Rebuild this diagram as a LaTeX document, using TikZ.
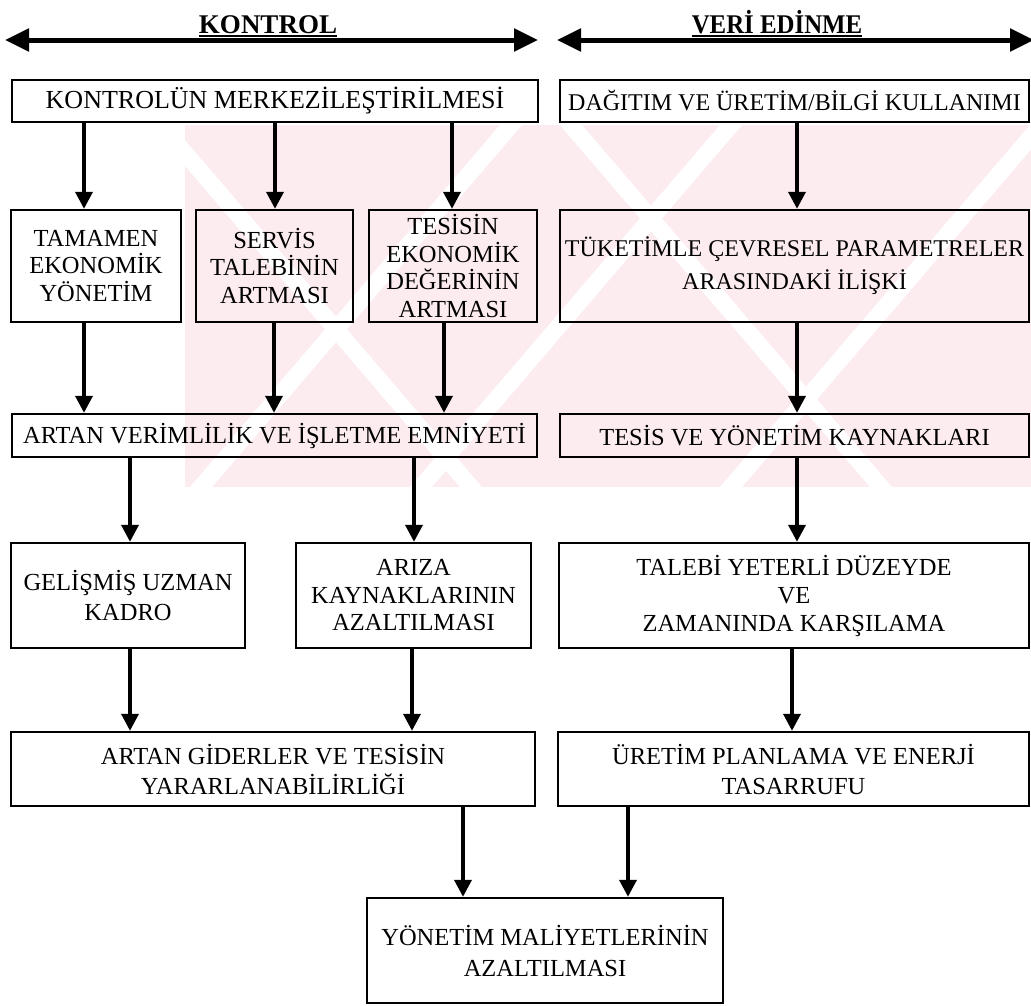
\documentclass[tikz,border=0pt]{standalone}
\usepackage{fontspec}
\setmainfont{Liberation Serif}
\usetikzlibrary{arrows.meta}

\definecolor{wmpink}{RGB}{253,236,239}

\begin{document}
\begin{tikzpicture}[x=1pt,y=-1pt,
  box/.style={draw, line width=2.4pt, inner sep=0pt, align=center,
    font=\fontsize{24.5}{27.5}\selectfont},
  flow/.style={line width=3.6pt, -{Triangle[length=17pt,width=17pt]}},
  span/.style={line width=5pt,
    {Triangle[length=24pt,width=22pt]}-{Triangle[length=24pt,width=22pt]}},
  title/.style={font=\bfseries\fontsize{27}{30}\selectfont, anchor=base, inner sep=0pt},
  uline/.style={line width=2pt},
  gap/.style={fill=white}
]
\useasboundingbox (0,0) rectangle (1031,1005);

% pale striped background mark
\begin{scope}
  \clip (185,125) rectangle (1031,487);
  \fill[wmpink] (185,125) rectangle (1031,487);
  \foreach \s in {190,410,720} {
    \fill[gap] (\s,487) -- ++(22,0) -- ++(310,-362) -- ++(-22,0) -- cycle;
  }
  \foreach \s in {150,560} {
    \fill[gap] (\s,125) -- ++(22,0) -- ++(310,362) -- ++(-22,0) -- cycle;
  }
\end{scope}

% section headings with their span arrows
\node[title] (ktitle) at (268,33) {KONTROL};
\node[title] (vtitle) at (777,33) {\scalebox{0.92}[1]{VERİ EDİNME}};
\draw[uline] ([yshift=-3pt]ktitle.base west) -- ([yshift=-3pt]ktitle.base east);
\draw[uline] ([yshift=-3pt]vtitle.base west) -- ([yshift=-3pt]vtitle.base east);
\coordinate (kl) at (5,40);
\coordinate (kr) at (538,40);
\coordinate (vl) at (557,40);
\coordinate (vr) at (1034,40);
\draw[span] (kl) -- (kr);
\draw[span] (vl) -- (vr);

% left column: control
\node[box, minimum width=526pt, minimum height=42pt, font=\fontsize{26}{29}\selectfont] (kmerk) at (275,101) {KONTROLÜN MERKEZİLEŞTİRİLMESİ};
\node[box, minimum width=170pt, minimum height=112pt] (tamamen) at (96,266) {TAMAMEN\\EKONOMİK\\YÖNETİM};
\node[box, minimum width=157pt, minimum height=112pt] (servis) at (274.5,266) {SERVİS\\TALEBİNİN\\ARTMASI};
\node[box, minimum width=168pt, minimum height=112pt] (tesisin) at (453,266) {TESİSİN\\EKONOMİK\\DEĞERİNİN\\ARTMASI};
\node[box, minimum width=525pt, minimum height=43pt] (artan) at (274.5,435.5) {ARTAN VERİMLİLİK VE İŞLETME EMNİYETİ};
\node[box, minimum width=234pt, minimum height=105pt, font=\fontsize{24.5}{30}\selectfont] (gelismis) at (128,595.5) {GELİŞMİŞ UZMAN\\KADRO};
\node[box, minimum width=235pt, minimum height=105pt] (ariza) at (413.5,595.5) {ARIZA\\KAYNAKLARININ\\AZALTILMASI};
\node[box, minimum width=524pt, minimum height=74pt, font=\fontsize{24.5}{30}\selectfont] (giderler) at (273,769) {ARTAN GİDERLER VE TESİSİN\\YARARLANABİLİRLİĞİ};

% right column: data acquisition
\node[box, minimum width=469pt, minimum height=42pt, font=\fontsize{24}{27}\selectfont] (dagitim) at (794.5,101) {DAĞITIM VE ÜRETİM/BİLGİ KULLANIMI};
\node[box, minimum width=469pt, minimum height=112pt, font=\fontsize{24}{33}\selectfont] (tuketim) at (794.5,266) {TÜKETİMLE ÇEVRESEL PARAMETRELER\\ARASINDAKİ İLİŞKİ};
\node[box, minimum width=469pt, minimum height=43pt] (tesis) at (794.5,435.5) {TESİS VE YÖNETİM KAYNAKLARI};
\node[box, minimum width=470pt, minimum height=105pt, font=\fontsize{24.5}{28}\selectfont] (talebi) at (794,595.5) {TALEBİ YETERLİ DÜZEYDE\\VE\\ZAMANINDA KARŞILAMA};
\node[box, minimum width=471pt, minimum height=74pt, font=\fontsize{24.5}{30}\selectfont] (uretim) at (793.5,769) {ÜRETİM PLANLAMA VE ENERJİ\\TASARRUFU};

% common outcome
\node[box, minimum width=356pt, minimum height=105pt, font=\fontsize{24.5}{31}\selectfont] (yonetim) at (545,950.5) {YÖNETİM MALİYETLERİNİN\\AZALTILMASI};

% arrow columns
\coordinate (a1) at (84,0);
\coordinate (a2) at (275,0);
\coordinate (a3) at (452,0);
\coordinate (b1) at (84,0);
\coordinate (b2) at (274,0);
\coordinate (b3) at (444,0);
\coordinate (c1) at (130,0);
\coordinate (c2) at (414,0);
\coordinate (d1) at (130,0);
\coordinate (d2) at (412,0);
\coordinate (r1) at (797,0);
\coordinate (r2) at (792,0);
\coordinate (e1) at (463,0);
\coordinate (e2) at (628,0);

\draw[flow] (kmerk.south -| a1) -- (tamamen.north -| a1);
\draw[flow] (kmerk.south -| a2) -- (servis.north -| a2);
\draw[flow] (kmerk.south -| a3) -- (tesisin.north -| a3);
\draw[flow] (tamamen.south -| b1) -- (artan.north -| b1);
\draw[flow] (servis.south -| b2) -- (artan.north -| b2);
\draw[flow] (tesisin.south -| b3) -- (artan.north -| b3);
\draw[flow] (artan.south -| c1) -- (gelismis.north -| c1);
\draw[flow] (artan.south -| c2) -- (ariza.north -| c2);
\draw[flow] (gelismis.south -| d1) -- (giderler.north -| d1);
\draw[flow] (ariza.south -| d2) -- (giderler.north -| d2);

\draw[flow] (dagitim.south -| r1) -- (tuketim.north -| r1);
\draw[flow] (tuketim.south -| r1) -- (tesis.north -| r1);
\draw[flow] (tesis.south -| r1) -- (talebi.north -| r1);
\draw[flow] (talebi.south -| r2) -- (uretim.north -| r2);

\draw[flow] (giderler.south -| e1) -- (yonetim.north -| e1);
\draw[flow] (uretim.south -| e2) -- (yonetim.north -| e2);
\end{tikzpicture}
\end{document}
